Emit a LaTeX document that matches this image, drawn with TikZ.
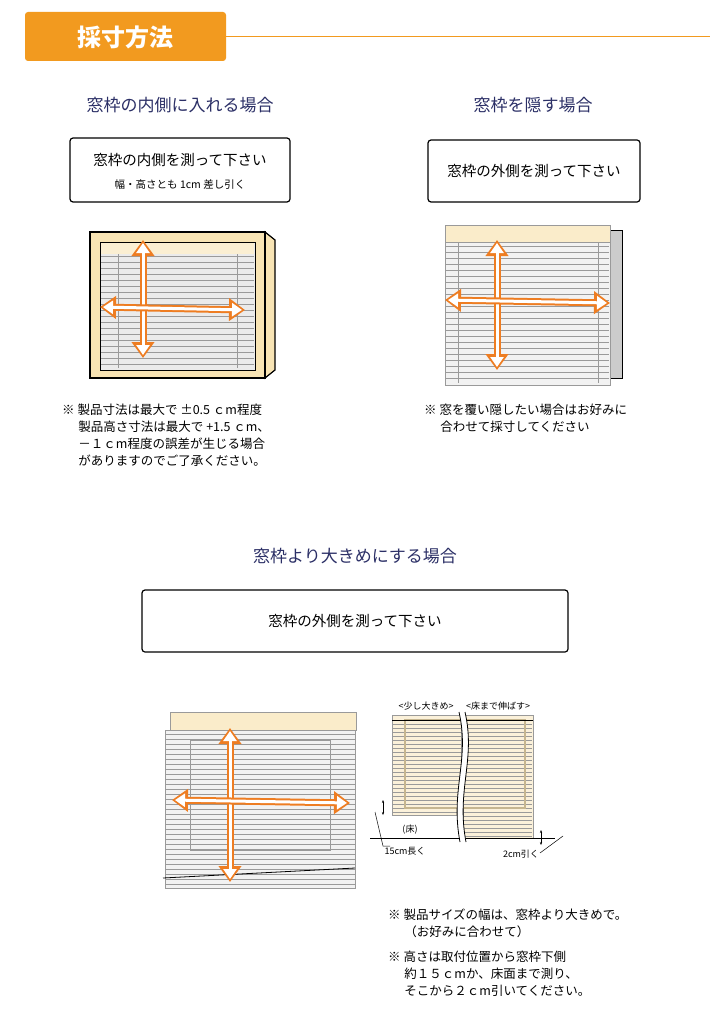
\documentclass[tikz,border=0pt]{standalone}
\usepackage{fontspec}
\setmainfont{Noto Sans CJK JP}
\usetikzlibrary{arrows.meta}
\definecolor{org}{HTML}{F29A1F}
\definecolor{arr}{HTML}{EE7D22}
\definecolor{beige}{HTML}{F8E4B4}
\definecolor{navy}{HTML}{2B2F66}
\definecolor{slat}{HTML}{9A9A9A}
\tikzset{
 tbox/.style={draw=black,line width=1.2pt,rounded corners=3pt},
 head/.style={font=\fontsize{17}{20}\selectfont,text=navy},
 note/.style={font=\fontsize{12.5}{17}\selectfont,align=left,anchor=north west,inner sep=0pt},
}
\newcommand{\oarrow}[2]{%
 \draw[arr,line width=7pt,{Triangle[length=16pt,width=22pt]}-{Triangle[length=16pt,width=22pt]}] #1 -- #2;
 \draw[white,line width=3pt,{Triangle[length=10pt,width=13pt]}-{Triangle[length=10pt,width=13pt]},shorten <=3pt,shorten >=3pt] #1 -- #2;}
\newcommand{\slats}[5]{% x1 x2 y1 y2 step
 \foreach \yy in {#3,#5,...,#4} \draw[slat,line width=0.5pt] (#1,\yy) -- (#2,\yy);}
\begin{document}
\begin{tikzpicture}[x=1pt,y=-1pt]
\useasboundingbox (0,0) rectangle (710,1030);
\fill[white] (0,0) rectangle (710,1030);
% title
\fill[org,rounded corners=3pt] (25,12) rectangle (226,61);
\node[text=white,font=\fontsize{24}{26}\selectfont\bfseries] (title) at (125,37) {採寸方法};
\draw[org,line width=1pt] (226,37) -- (710,37);
% headings
\node[head] (h1) at (180,105) {窓枠の内側に入れる場合};
\node[head] (h2) at (533,105) {窓枠を隠す場合};
\node[head] (h3) at (355,556) {窓枠より大きめにする場合};
% boxes
\draw[tbox] (70,138) rectangle (290,202);
\node[font=\fontsize{14.5}{16}\selectfont] (b1) at (180,160) {窓枠の内側を測って下さい};
\node[font=\fontsize{10.5}{12}\selectfont] (b1s) at (180,185) {幅・高さとも 1cm 差し引く};
\draw[tbox] (428,140) rectangle (640,202);
\node[font=\fontsize{14.5}{16}\selectfont] (b2) at (534,171) {窓枠の外側を測って下さい};
\draw[tbox] (142,590) rectangle (568,652);
\node[font=\fontsize{14.5}{16}\selectfont] (b3) at (355,621) {窓枠の外側を測って下さい};
% window 1
\fill[beige,draw=black,line width=1.2pt] (265,232) -- (275,240) -- (275,370) -- (265,378) -- cycle;
\fill[beige,draw=black,line width=1.2pt] (90,232) rectangle (265,378);
\fill[white!92!black,draw=black,line width=1pt] (100,242) rectangle (255,370);
\fill[beige!60!white] (101,243) rectangle (254,254);
\slats{101}{254}{256}{368}{262}
\draw[slat] (118,254) -- (118,368) (237,254) -- (237,368);
\oarrow{(143,240)}{(143,358)}
\oarrow{(100,307)}{(245,310)}
% window 2
\fill[white!80!black,draw=black,line width=0.8pt] (455,230) rectangle (622,378);
\fill[white!95!black,draw=slat] (445,225) rectangle (610,385);
\fill[beige!70!white,draw=slat] (445,225) rectangle (610,242);
\slats{446}{609}{246}{383}{252}
\draw[slat] (458,242) -- (458,383) (598,242) -- (598,383);
\oarrow{(497,240)}{(497,370)}
\oarrow{(445,300)}{(610,303)}
% window 3
\fill[white!95!black,draw=slat] (165,730) rectangle (355,888);
\slats{165}{355}{734}{886}{739}
\draw[black,line width=0.8pt] (163,878) -- (355,868);
\draw[slat] (190,740) rectangle (330,850);
\fill[beige!70!white,draw=slat] (170,712) rectangle (356,730);
\oarrow{(230,728)}{(230,882)}
\oarrow{(172,800)}{(350,803)}
% right diagram
\node[font=\fontsize{9}{10}\selectfont] (l1) at (426,706) {<少し大きめ>};
\node[font=\fontsize{9}{10}\selectfont] (l2) at (498,706) {<床まで伸ばす>};
\fill[beige!50!white,draw=slat] (392,715) rectangle (461,815);
\fill[beige!50!white,draw=slat] (463,715) rectangle (533,838);
\slats{393}{532}{720}{836}{724}
\fill[white] (392,815.5) rectangle (462,837);
\draw[beige!80!black,line width=1.5pt] (405,720) rectangle (525,808);
\draw[black,line width=0.8pt] (392,720) -- (533,720);
\fill[white] (459,712) .. controls (470,760) and (450,790) .. (460,842) -- (466,842) .. controls (456,790) and (476,760) .. (465,712) -- cycle;
\draw[black,line width=0.8pt] (459,712) .. controls (470,760) and (450,790) .. (460,842);
\draw[black,line width=0.8pt] (465,712) .. controls (476,760) and (456,790) .. (466,842);
\draw[black,line width=0.8pt] (370,838) -- (460,838) (466,838) -- (555,838);
\draw[black,{Stealth[length=3pt]}-{Stealth[length=3pt]}] (383,800) -- (383,815);
\draw[black,line width=0.5pt] (375,812) -- (383,846) -- (390,846);
\node[font=\fontsize{9}{10}\selectfont] (fl) at (410,830) {(床)};
\node[font=\fontsize{9}{10}\selectfont] (c15) at (405,851) {15cm長く};
\draw[black,{Stealth[length=3pt]}-{Stealth[length=3pt]}] (541,830) -- (541,845);
\draw[black,line width=0.5pt] (563,836) -- (540,853);
\node[font=\fontsize{9}{10}\selectfont] (c2) at (521,854) {2cm引く};
% notes
\node[note] (n1) at (62,404) {※ 製品寸法は最大で ±0.5 ｃm程度\\\hspace*{1.3em}製品高さ寸法は最大で +1.5 ｃm、\\\hspace*{1.3em}－１ｃm程度の誤差が生じる場合\\\hspace*{1.3em}がありますのでご了承ください。};
\node[note] (n2) at (424,404) {※ 窓を覆い隠したい場合はお好みに\\\hspace*{1.3em}合わせて採寸してください};
\node[note] (n3) at (388,909) {※ 製品サイズの幅は、窓枠より大きめで。\\\hspace*{1.3em}（お好みに合わせて）};
\node[note] (n4) at (388,951) {※ 高さは取付位置から窓枠下側\\\hspace*{1.3em}約１５ｃmか、床面まで測り、\\\hspace*{1.3em}そこから２ｃm引いてください。};
\end{tikzpicture}
\end{document}
